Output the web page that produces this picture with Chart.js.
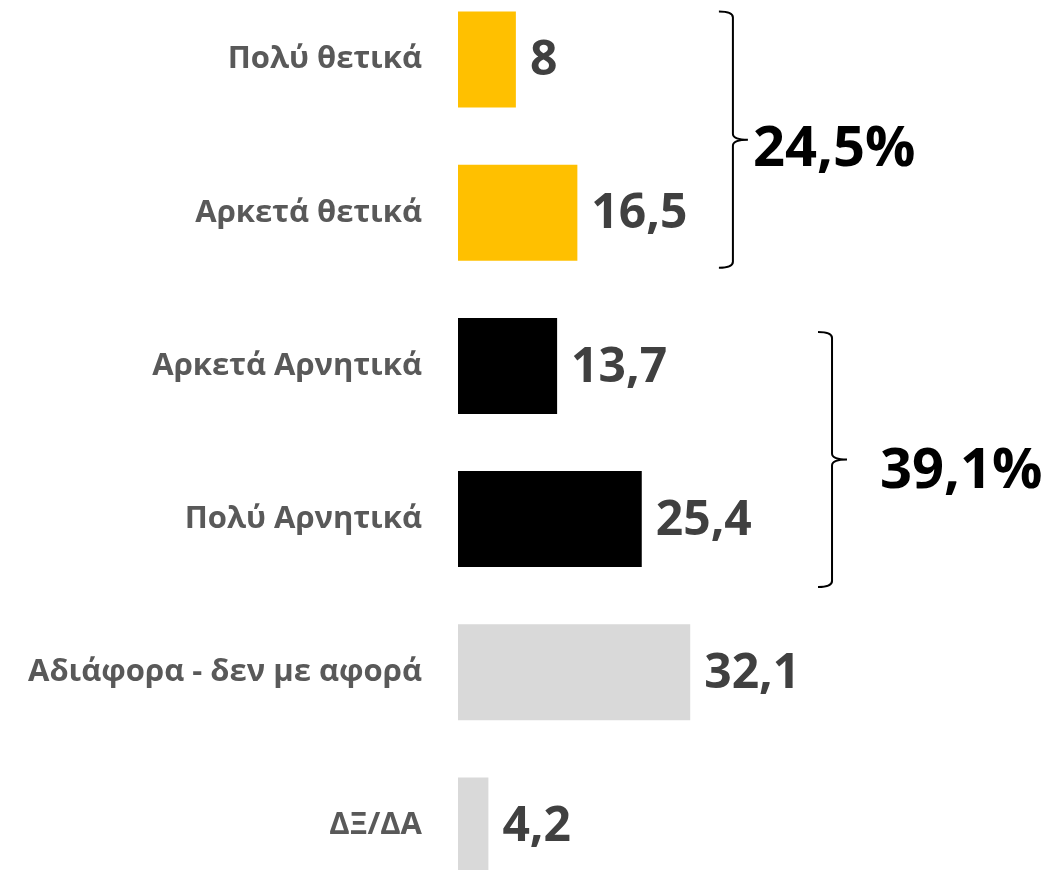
<!DOCTYPE html>
<html>
<head>
<meta charset="utf-8">
<script src="https://cdn.jsdelivr.net/npm/chart.js@4.4.1/dist/chart.umd.min.js"></script>
<style>
    html, body { margin: 0; padding: 0; background: #fff; overflow: hidden; }
    #wrap { position: absolute; left: 0; top: -17px; width: 1044px; height: 919px; }
</style>
</head>
<body>
<div id="wrap"><canvas id="chart"></canvas></div>
<script>
// Δεδομένα
const categories = ['Πολύ θετικά', 'Αρκετά θετικά', 'Αρκετά Αρνητικά', 'Πολύ Αρνητικά', 'Αδιάφορα - δεν με αφορά', 'ΔΞ/ΔΑ'];
const values = [8, 16.5, 13.7, 25.4, 32.1, 4.2];
const barColors = ['#FFC000', '#FFC000', '#000000', '#000000', '#D9D9D9', '#D9D9D9'];
const groupLabels = ['24,5%', '39,1%'];
const groupRanges = [[0, 1], [2, 3]];

const FONT = "'Open Sans', sans-serif";

// Ετικέτες τιμών στο τέλος κάθε μπάρας
const valueLabels = {
    id: 'valueLabels',
    afterDatasetsDraw(chart) {
        const ctx = chart.ctx;
        const meta = chart.getDatasetMeta(0);
        ctx.save();
        ctx.font = `bold 48px ${FONT}`;
        ctx.fillStyle = '#404040';
        ctx.textAlign = 'left';
        ctx.textBaseline = 'middle';
        meta.data.forEach((bar, i) => {
            const txt = String(values[i]).replace('.', ',');
            ctx.fillText(txt, bar.x + 14, bar.y + 2);
        });
        ctx.restore();
    }
};

// Άγκιστρα ομάδων με το σύνολο
const braces = {
    id: 'braces',
    afterDraw(chart, args, opts) {
        const ctx = chart.ctx;
        const xs = chart.scales.x;
        const ys = chart.scales.y;
        ctx.save();
        groupRanges.forEach((rng, g) => {
            const o = opts.groups[g];
            const x = xs.getPixelForValue(o.at);
            const top = ys.getPixelForValue(rng[0]) + o.top;
            const bottom = ys.getPixelForValue(rng[1]) + o.bottom;
            const mid = (top + bottom) / 2;
            const r = 6;
            ctx.strokeStyle = '#000';
            ctx.lineWidth = 2;
            ctx.beginPath();
            ctx.moveTo(x - 14, top);
            ctx.quadraticCurveTo(x, top, x, top + r);
            ctx.lineTo(x, mid - r);
            ctx.quadraticCurveTo(x, mid, x + 15, mid);
            ctx.moveTo(x + 15, mid);
            ctx.quadraticCurveTo(x, mid, x, mid + r);
            ctx.lineTo(x, bottom - r);
            ctx.quadraticCurveTo(x, bottom, x - 14, bottom);
            ctx.stroke();

            ctx.font = `bold 56px ${FONT}`;
            ctx.fillStyle = '#000';
            ctx.textAlign = 'left';
            ctx.textBaseline = 'middle';
            ctx.fillText(groupLabels[g], x + o.textGap, mid + o.textDy);
        });
        ctx.restore();
    }
};

new Chart(document.getElementById('chart'), {
    type: 'bar',
    data: {
        labels: categories,
        datasets: [{
            data: values,
            backgroundColor: barColors,
            borderWidth: 0,
            barPercentage: 1,
            categoryPercentage: 0.627
        }]
    },
    options: {
        indexAxis: 'y',
        responsive: true,
        maintainAspectRatio: false,
        animation: false,
        layout: { padding: 0 },
        plugins: {
            legend: { display: false },
            tooltip: { enabled: false },
            braces: {
                groups: [
                    { at: 38, top: -48, bottom: 55, textGap: 20, textDy: 10 },
                    { at: 51.7, top: -34, bottom: 68, textGap: 48, textDy: 13 }
                ]
            }
        },
        scales: {
            x: { display: false, min: 0, max: 81 },
            y: {
                grid: { display: false, drawTicks: false },
                border: { display: false },
                ticks: {
                    color: '#595959',
                    padding: 36,
                    font: { family: FONT, size: 31, weight: 'bold' }
                },
                afterFit(scale) {
                    scale.width = 458;
                    scale.paddingTop = 0;
                    scale.paddingBottom = 0;
                }
            }
        }
    },
    plugins: [valueLabels, braces]
});
</script>
</body>
</html>
